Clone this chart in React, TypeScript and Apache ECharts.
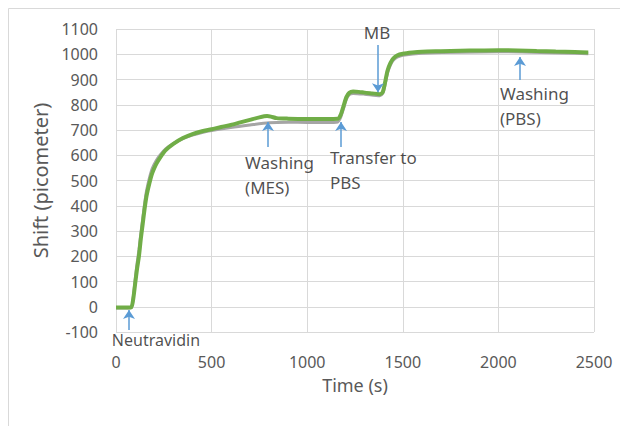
import React, { useEffect, useRef } from "react";
import * as echarts from "echarts";

// Time (s) and shift (picometer) samples
const timeGreen = [0, 60, 80, 90, 100, 110, 120, 130, 140, 150, 160, 175, 190, 210, 230, 260, 300, 350, 400, 450, 500, 550, 600, 650, 700, 750, 790, 810, 840, 900, 1000, 1100, 1160, 1175, 1190, 1205, 1220, 1240, 1270, 1300, 1340, 1380, 1395, 1405, 1420, 1435, 1450, 1470, 1500, 1550, 1600, 1700, 1800, 1900, 2000, 2100, 2200, 2300, 2400, 2470];
const shiftGreen = [-3, -3, -2, 30, 90, 150, 200, 270, 330, 390, 440, 490, 530, 565, 590, 620, 645, 668, 684, 695, 703, 712, 720, 730, 740, 750, 755, 753, 747, 745, 744, 744, 745, 760, 795, 830, 847, 852, 851, 848, 845, 842, 850, 880, 935, 965, 983, 995, 1002, 1007, 1010, 1012, 1014, 1015, 1016, 1015, 1013, 1011, 1009, 1007];

const timeGray = [0, 60, 80, 90, 100, 110, 120, 130, 140, 150, 160, 175, 190, 210, 230, 260, 300, 350, 400, 450, 500, 600, 700, 800, 900, 1000, 1100, 1160, 1175, 1190, 1205, 1220, 1240, 1300, 1380, 1395, 1405, 1420, 1435, 1450, 1470, 1500, 1600, 2000, 2470];
const shiftGray = [-5, -5, -4, 35, 105, 170, 225, 290, 350, 410, 460, 510, 548, 578, 600, 625, 646, 666, 680, 690, 698, 710, 720, 729, 731, 730, 730, 732, 750, 785, 822, 840, 845, 842, 836, 845, 872, 925, 957, 976, 988, 996, 1004, 1010, 1002];

// Annotations: label text, anchor of text, arrow time, arrow tail, arrow tip
const annLabels = ["Neutravidin", "Washing\n(MES)", "Transfer to\nPBS", "MB", "Washing\n(PBS)"];
const annTextT = [209, 675, 1119, 1365, 2008];
const annTextV = [-130, 520, 540, 1088, 797];
const annAlign = ["center", "left", "left", "center", "left"];
const annSize = [16, 17, 17, 17, 17];
const arrowT = [68, 795, 1177, 1370, 2113];
const arrowTail = [-92, 633, 633, 1037, 898];
const arrowTip = [-13, 732, 732, 850, 989];

const xTicks = { min: 0, max: 2500, interval: 500 };
const yTicks = { min: -100, max: 1100, interval: 100 };

const FONT = "'Noto Sans', sans-serif";

export default function App() {
  const ref = useRef<HTMLDivElement>(null);
  useEffect(() => {
    if (!ref.current) return;
    const chart = echarts.init(ref.current, null, { renderer: "svg" });
    const green = timeGreen.map((t, i) => [t, shiftGreen[i]]);
    const gray = timeGray.map((t, i) => [t, shiftGray[i]]);
    const labelData = annLabels.map((l, i) => ({
      name: l,
      value: [annTextT[i], annTextV[i]],
      label: { align: annAlign[i], fontSize: annSize[i], lineHeight: l.includes("\n") ? 25 : annSize[i] + 2 },
    }));
    const arrows = arrowT.map((t, i) => [
      { coord: [t, arrowTail[i]], symbol: "none" },
      { coord: [t, arrowTip[i]], symbol: "arrow" },
    ]);
    chart.setOption({
      animation: false,
      grid: { left: 116, right: 26, top: 29, bottom: 94 },
      graphic: [
        {
          type: "rect",
          shape: { x: 8.5, y: 8.5, width: 700, height: 500 },
          style: { fill: "none", stroke: "#d9d9d9", lineWidth: 1 },
          silent: true,
        },
      ],
      xAxis: {
        type: "value",
        ...xTicks,
        name: "Time (s)",
        nameLocation: "middle",
        nameGap: 44,
        nameTextStyle: { color: "#595959", fontSize: 18, fontFamily: FONT },
        axisLine: { show: false },
        axisTick: { show: false },
        axisLabel: {
          color: "#595959",
          fontSize: 16,
          lineHeight: 17,
          fontFamily: FONT,
          margin: 21,
          formatter: (v: number) => String(v),
        },
        splitLine: { show: true, lineStyle: { color: "#d9d9d9", width: 1 } },
      },
      yAxis: {
        type: "value",
        ...yTicks,
        name: "Shift (picometer)",
        nameLocation: "middle",
        nameGap: 60,
        nameTextStyle: { color: "#595959", fontSize: 20, fontFamily: FONT },
        axisLine: { show: false },
        axisTick: { show: false },
        axisLabel: {
          color: "#595959",
          fontSize: 16,
          fontFamily: FONT,
          margin: 18,
          formatter: (v: number) => String(v),
        },
        splitLine: { show: true, lineStyle: { color: "#d9d9d9", width: 1 } },
      },
      series: [
        {
          type: "line",
          data: gray,
          showSymbol: false,
          smooth: 0.25,
          lineStyle: { color: "#a5a5a5", width: 3 },
          silent: true,
        },
        {
          type: "line",
          data: green,
          showSymbol: false,
          smooth: 0.25,
          lineStyle: { color: "#70ad47", width: 4 },
          silent: true,
        },
        {
          type: "scatter",
          data: labelData,
          symbolSize: 0,
          clip: false,
          silent: true,
          label: {
            show: true,
            position: [0, 0],
            verticalAlign: "middle",
            formatter: "{b}",
            color: "#1f1f1f",
            fontSize: 17,
            lineHeight: 25,
            fontFamily: FONT,
          },
          markLine: {
            silent: true,
            symbolSize: 9,
            label: { show: false },
            lineStyle: { color: "#5b9bd5", width: 1.5, type: "solid" },
            data: arrows,
          },
        },
      ],
    });
    return () => chart.dispose();
  }, []);
  return (
    <div
      ref={ref}
      style={{ position: "fixed", left: 0, top: 0, width: 620, height: 426, background: "#fff" }}
    />
  );
}
